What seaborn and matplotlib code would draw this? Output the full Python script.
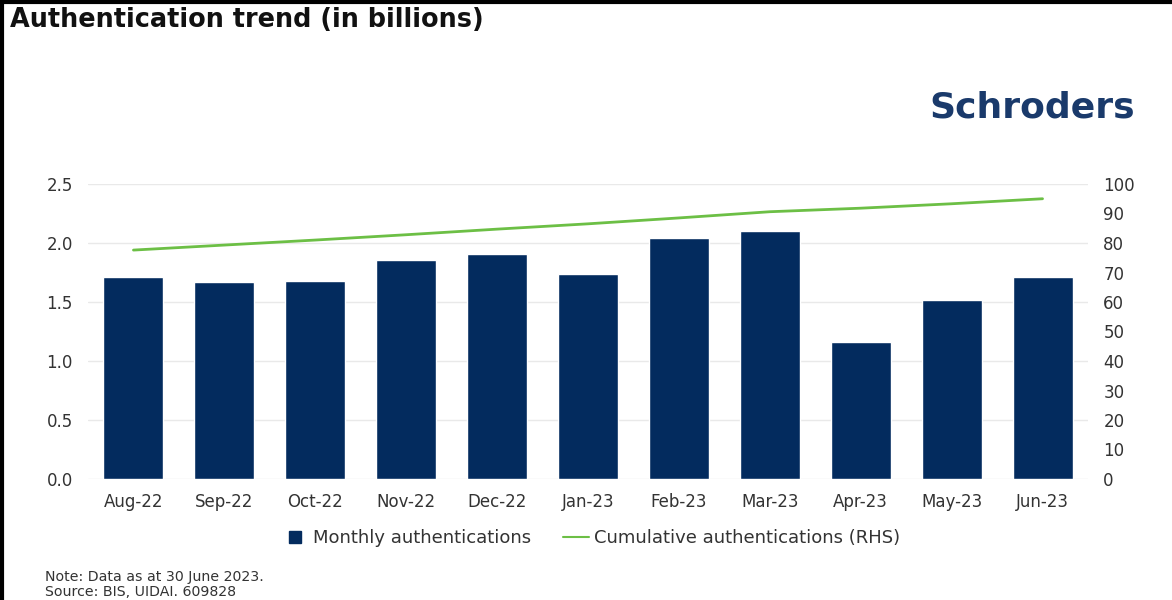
import matplotlib
matplotlib.use("Agg")
import matplotlib.pyplot as plt
from matplotlib.lines import Line2D
import pandas as pd
import seaborn as sns

# Monthly and cumulative Aadhaar authentications, in billions
months = ["Aug-22", "Sep-22", "Oct-22", "Nov-22", "Dec-22", "Jan-23",
          "Feb-23", "Mar-23", "Apr-23", "May-23", "Jun-23"]
monthly = [1.71, 1.67, 1.68, 1.86, 1.91, 1.74, 2.04, 2.10, 1.16, 1.52, 1.71]
cumulative = [77.6, 79.3, 81.0, 82.8, 84.7, 86.5, 88.5, 90.6, 91.8, 93.3, 95.0]

left_ticks = [0.0, 0.5, 1.0, 1.5, 2.0, 2.5]
right_ticks = [0, 10, 20, 30, 40, 50, 60, 70, 80, 90, 100]

df = pd.DataFrame({"month": months, "monthly": monthly, "cumulative": cumulative})

NAVY = "#032b5e"
GREEN = "#6cbf45"
TEXT = "#333333"
GRID = "#e9e9e9"

sns.set_theme(style="white")
plt.rcParams["font.family"] = ["DejaVu Sans"]

fig = plt.figure(figsize=(11.72, 6.0), dpi=100)
ax = fig.add_axes([88 / 1172, 1 - 479 / 600, 1000 / 1172, 295 / 600])

sns.barplot(data=df, x="month", y="monthly", color=NAVY, saturation=1,
            width=0.66, ax=ax, zorder=2)
ax.set_xlim(-0.5, len(months) - 0.5)
ax.set_ylim(0, 2.5)
ax.set_yticks(left_ticks)
ax.set_yticklabels([f"{v:.1f}" for v in left_ticks])
ax.yaxis.grid(True, color=GRID, linewidth=1)
ax.set_axisbelow(True)
ax.set_xlabel("")
ax.set_ylabel("")
for s in ax.spines.values():
    s.set_visible(False)
ax.tick_params(axis="both", length=0, labelsize=12, colors=TEXT)
ax.tick_params(axis="y", pad=11)
ax.tick_params(axis="x", pad=10)

ax2 = ax.twinx()
sns.lineplot(data=df, x="month", y="cumulative", color=GREEN, linewidth=2,
             ax=ax2, sort=False)
ax2.set_ylim(0, 100)
ax2.set_yticks(right_ticks)
ax2.set_yticklabels([str(v) for v in right_ticks])
ax2.set_ylabel("")
ax2.set_xlabel("")
for s in ax2.spines.values():
    s.set_visible(False)
ax2.tick_params(axis="y", length=0, labelsize=12, colors=TEXT, pad=11)
ax2.grid(False)

# Legend below the plot
handles = [Line2D([], [], marker="s", linestyle="none", markersize=9,
                  markerfacecolor=NAVY, markeredgecolor=NAVY),
           Line2D([], [], color=GREEN, linewidth=1.5)]
labels = ["Monthly authentications", "Cumulative authentications (RHS)"]
fig.legend(handles, labels, loc="center", bbox_to_anchor=(591 / 1172, 1 - 538 / 600),
           ncol=2, frameon=False, fontsize=13, handlelength=1.4,
           handletextpad=0.3, columnspacing=1.8, labelcolor=TEXT)

# Title, brand and footnotes
fig.text(10 / 1172, 1 - 20 / 600, "Authentication trend (in billions)",
         fontsize=18.4, fontweight="bold", color="#111111", va="center", ha="left")
fig.text(1135 / 1172, 1 - 108 / 600, "Schroders", fontsize=26, fontweight="bold",
         color="#1a3a6b", va="center", ha="right")
fig.text(45 / 1172, 1 - 577 / 600, "Note: Data as at 30 June 2023.",
         fontsize=10.2, color=TEXT, va="center", ha="left")
fig.text(45 / 1172, 1 - 592 / 600, "Source: BIS, UIDAI. 609828",
         fontsize=10.2, color=TEXT, va="center", ha="left")

# Frame lines along the top and left edges
fig.add_artist(Line2D([0, 1], [1 - 2 / 600, 1 - 2 / 600], color="black",
                      linewidth=3, transform=fig.transFigure))
fig.add_artist(Line2D([2 / 1172, 2 / 1172], [0, 1], color="black",
                      linewidth=3, transform=fig.transFigure))

fig.savefig("out.png", dpi=100)
